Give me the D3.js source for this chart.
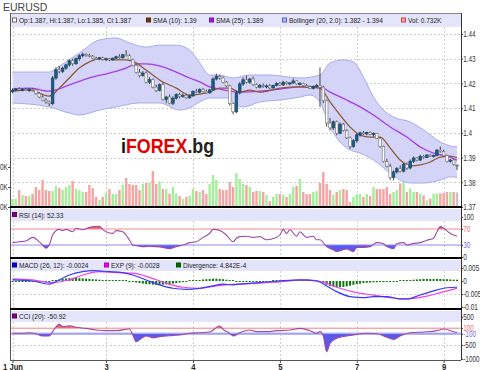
<!DOCTYPE html>
<html><head><meta charset="utf-8">
<script src="https://cdn.jsdelivr.net/npm/d3@7"></script>
<style>html,body{margin:0;padding:0;background:#fff;overflow:hidden}</style>
</head><body><svg id="c" width="480" height="370"></svg>
<script>
// ---------- DATA ----------
const N = 134;
const dayIdx = [0, 28, 54, 80, 103, 129];
const dayLabels = ["1 Jun", "3", "4", "5", "7", "9"];
const priceTicks = [1.37, 1.38, 1.39, 1.40, 1.41, 1.42, 1.43, 1.44];
const priceTickLabels = ["1.37", "1.38", "1.39", "1.4", "1.41", "1.42", "1.43", "1.44"];
const volTicks = [0, 1, 2];
const volTickLabels = ["0.0K", "1.0K", "2.0K"];
const rsiTicks = [0, 30, 70, 100];
const macdTicks = [-0.01, -0.005, 0, 0.005];
const macdTickLabels = ["-0.01", "-0.005", "0", "0.005"];
const cciTicks = [-1000, -500, -100, 100, 500];

const opens = [1.4166,1.4172,1.4178,1.4174,1.4176,1.4171,1.4177,1.4173,1.4160,1.4145,
1.4132,1.4125,1.4118,1.4222,1.4255,1.4248,1.4262,1.4275,1.4292,1.4280,
1.4300,1.4312,1.4318,1.4314,1.4310,1.4302,1.4300,1.4304,1.4297,1.4300,
1.4295,1.4302,1.4308,1.4304,1.4316,1.4312,1.4295,1.4272,1.4245,1.4232,
1.4242,1.4205,1.4215,1.4185,1.4172,1.4195,1.4135,1.4145,1.4120,1.4140,
1.4155,1.4148,1.4152,1.4142,1.4150,1.4168,1.4165,1.4176,1.4168,1.4162,
1.4174,1.4218,1.4228,1.4222,1.4205,1.4190,1.4118,1.4085,1.4162,1.4198,
1.4215,1.4205,1.4218,1.4195,1.4185,1.4192,1.4188,1.4190,1.4182,1.4192,
1.4200,1.4194,1.4205,1.4200,1.4202,1.4210,1.4198,1.4200,1.4192,1.4186,
1.4180,1.4188,1.4192,1.4185,1.4130,1.4040,1.4020,1.4045,1.3998,1.4035,
1.4010,1.3980,1.3945,1.3968,1.3992,1.4000,1.3996,1.4002,1.3994,1.3998,
1.3978,1.3945,1.3885,1.3865,1.3820,1.3842,1.3855,1.3845,1.3872,1.3858,
1.3885,1.3898,1.3890,1.3905,1.3900,1.3910,1.3906,1.3908,1.3930,1.3925,
1.3908,1.3885,1.3890,1.3870];
const highs = [1.4180,1.4182,1.4185,1.4180,1.4182,1.4180,1.4182,1.4176,1.4165,1.4152,
1.4140,1.4130,1.4230,1.4265,1.4270,1.4268,1.4280,1.4298,1.4300,1.4305,
1.4318,1.4325,1.4322,1.4320,1.4315,1.4308,1.4306,1.4308,1.4304,1.4303,
1.4305,1.4312,1.4318,1.4320,1.4335,1.4318,1.4300,1.4278,1.4258,1.4250,
1.4248,1.4225,1.4220,1.4195,1.4200,1.4205,1.4150,1.4155,1.4148,1.4160,
1.4162,1.4160,1.4158,1.4155,1.4172,1.4178,1.4180,1.4182,1.4175,1.4178,
1.4225,1.4240,1.4236,1.4228,1.4210,1.4195,1.4122,1.4170,1.4205,1.4225,
1.4232,1.4222,1.4228,1.4200,1.4198,1.4200,1.4196,1.4198,1.4195,1.4205,
1.4206,1.4210,1.4208,1.4205,1.4220,1.4212,1.4205,1.4203,1.4198,1.4192,
1.4192,1.4198,1.4265,1.4190,1.4135,1.4060,1.4050,1.4050,1.4042,1.4040,
1.4015,1.3985,1.3975,1.3998,1.4005,1.4008,1.4005,1.4006,1.4002,1.4000,
1.3982,1.3948,1.3895,1.3875,1.3848,1.3862,1.3868,1.3878,1.3880,1.3892,
1.3905,1.3902,1.3912,1.3910,1.3915,1.3914,1.3912,1.3935,1.3945,1.3932,
1.3912,1.3895,1.3893,1.3870];
const lows = [1.4160,1.4168,1.4170,1.4168,1.4170,1.4166,1.4170,1.4155,1.4140,1.4128,
1.4118,1.4108,1.4112,1.4215,1.4240,1.4242,1.4255,1.4268,1.4272,1.4275,
1.4292,1.4305,1.4308,1.4306,1.4298,1.4295,1.4294,1.4292,1.4290,1.4290,
1.4292,1.4298,1.4300,1.4300,1.4310,1.4290,1.4268,1.4240,1.4225,1.4228,
1.4200,1.4198,1.4180,1.4165,1.4168,1.4130,1.4120,1.4115,1.4112,1.4135,
1.4140,1.4142,1.4138,1.4138,1.4145,1.4160,1.4160,1.4164,1.4160,1.4158,
1.4170,1.4212,1.4215,1.4200,1.4185,1.4110,1.4075,1.4080,1.4155,1.4190,
1.4200,1.4198,1.4190,1.4180,1.4180,1.4182,1.4180,1.4178,1.4178,1.4188,
1.4190,1.4190,1.4195,1.4192,1.4198,1.4195,1.4192,1.4188,1.4182,1.4178,
1.4176,1.4184,1.4105,1.4120,1.4025,1.4010,1.4012,1.3990,1.3995,1.4005,
1.3975,1.3935,1.3940,1.3960,1.3985,1.3992,1.3990,1.3990,1.3985,1.3975,
1.3940,1.3880,1.3860,1.3810,1.3808,1.3835,1.3840,1.3840,1.3850,1.3852,
1.3878,1.3885,1.3886,1.3895,1.3898,1.3902,1.3900,1.3905,1.3920,1.3905,
1.3880,1.3880,1.3868,1.3850];
const closes = [1.4172,1.4178,1.4174,1.4176,1.4171,1.4177,1.4173,1.4160,1.4145,1.4132,
1.4125,1.4118,1.4222,1.4255,1.4248,1.4262,1.4275,1.4292,1.4280,1.4300,
1.4312,1.4318,1.4314,1.4310,1.4302,1.4300,1.4304,1.4297,1.4300,1.4295,
1.4302,1.4308,1.4304,1.4316,1.4312,1.4295,1.4272,1.4245,1.4232,1.4242,
1.4205,1.4215,1.4185,1.4172,1.4195,1.4135,1.4145,1.4120,1.4140,1.4155,
1.4148,1.4152,1.4142,1.4150,1.4168,1.4165,1.4176,1.4168,1.4162,1.4174,
1.4218,1.4228,1.4222,1.4205,1.4190,1.4118,1.4085,1.4162,1.4198,1.4215,
1.4205,1.4218,1.4195,1.4185,1.4192,1.4188,1.4190,1.4182,1.4192,1.4200,
1.4194,1.4205,1.4200,1.4202,1.4210,1.4198,1.4200,1.4192,1.4186,1.4180,
1.4188,1.4192,1.4185,1.4130,1.4040,1.4020,1.4045,1.3998,1.4035,1.4010,
1.3980,1.3945,1.3968,1.3992,1.4000,1.3996,1.4002,1.3994,1.3998,1.3978,
1.3945,1.3885,1.3865,1.3820,1.3842,1.3855,1.3845,1.3872,1.3858,1.3885,
1.3898,1.3890,1.3905,1.3900,1.3910,1.3906,1.3908,1.3930,1.3925,1.3908,
1.3885,1.3890,1.3872,1.3870];
// volume in thousands
const volumes = [0.4,0.4,0.85,0.6,0.55,0.55,0.65,1.0,0.85,1.35,0.85,0.8,0.8,1.05,0.95,0.85,1.0,1.1,1.3,0.9,0.85,0.75,0.75,1.1,0.95,0.5,0.35,0.5,0.7,0.9,0.65,0.65,0.85,1.1,1.45,1.15,1.1,1.1,0.85,1.15,1.2,1.2,1.8,1.15,
1.28,0.9,0.9,0.67,1.0,0.67,0.55,0.4,0.5,0.55,0.9,0.8,0.75,0.85,0.65,1.15,1.6,1.35,0.9,0.85,0.85,1.25,1.0,1.7,1.4,1.15,1.1,1.0,0.75,0.8,0.8,0.75,0.6,0.3,0.5,0.65,0.65,0.6,0.5,0.65,1.0,1.05,1.4,0.75,0.65,0.65,0.75,0.8,
1.2,1.75,1.15,0.85,0.6,0.75,0.85,0.9,0.85,0.25,0.5,0.65,0.65,0.5,0.65,0.55,1.0,0.9,0.9,0.9,1.0,0.65,0.75,0.85,1.17,1.25,0.75,0.92,0.75,0.75,0.67,0.58,0.33,0.42,0.67,0.67,0.67,0.7,0.75,0.75,0.75,0.73];
// indicator lines: [bar index, value]
const sma10 = [[0,1.4169],[5,1.4173],[11,1.4149],[14,1.4181],[17,1.4222],[20,1.4262],[23,1.4287],[26,1.4299],[31,1.4295],[34,1.4295],[37,1.4283],[40,1.4254],[44,1.4214],[49,1.4181],[53,1.4153],[56,1.4157],[59,1.4165],[62,1.4181],[65,1.4181],[68,1.4165],[71,1.4173],[74,1.4165],[80,1.4181],[86,1.4186],[92,1.4181],[95,1.4125],[98,1.4072],[101,1.4024],[104,1.3991],[107,1.3983],[110,1.3983],[113,1.3939],[116,1.3890],[119,1.3866],[122,1.3870],[125,1.3882],[128,1.3902],[131,1.3906],[133,1.3900]];
const sma25 = [[0,1.4177],[5,1.4181],[11,1.4169],[17,1.4194],[23,1.4222],[29,1.4242],[34,1.4262],[37,1.4279],[40,1.4279],[44,1.4271],[49,1.4246],[53,1.4222],[56,1.4206],[59,1.4186],[62,1.4177],[68,1.4165],[74,1.4169],[80,1.4177],[86,1.4186],[92,1.4186],[95,1.4165],[100,1.4133],[104,1.4105],[108,1.4072],[113,1.4024],[118,1.3983],[122,1.3943],[126,1.3918],[131,1.3902],[133,1.3890]];
const bbUpper = [[0,1.4246],[11,1.4246],[14,1.4270],[20,1.4323],[26,1.4376],[31,1.4384],[35,1.4364],[40,1.4347],[44,1.4355],[49,1.4355],[53,1.4335],[56,1.4283],[59,1.4234],[62,1.4234],[66,1.4222],[71,1.4234],[77,1.4234],[86,1.4222],[92,1.4234],[95,1.4283],[99,1.4295],[102,1.4287],[105,1.4226],[108,1.4145],[111,1.4092],[114,1.4064],[119,1.4044],[123,1.4012],[128,1.3963],[131,1.3947],[133,1.3943]];
const bbLower = [[0,1.4121],[11,1.4105],[17,1.4080],[20,1.4072],[26,1.4092],[31,1.4105],[38,1.4121],[44,1.4121],[50,1.4092],[53,1.4101],[56,1.4125],[59,1.4141],[64,1.4141],[67,1.4113],[69,1.4105],[74,1.4125],[80,1.4133],[86,1.4145],[89,1.4153],[92,1.4125],[95,1.4024],[98,1.3963],[101,1.3931],[104,1.3918],[108,1.3890],[113,1.3837],[116,1.3809],[119,1.3797],[123,1.3797],[128,1.3809],[131,1.3822],[133,1.3820]];
const rsi = [[0,36],[2,38],[4,40],[6,49],[8,38],[9,30],[10,22],[11,30],[12,55],[14,69],[15,66],[16,69],[18,63],[19,72],[21,68],[23,74],[26,77],[27,69],[28,63],[30,59],[31,66],[33,63],[34,55],[35,42],[36,30],[38,27],[39,26],[41,27],[43,26],[45,24],[47,21],[49,26],[51,30],[53,36],[55,38],[57,49],[59,59],[60,69],[62,66],[64,55],[66,38],[67,47],[68,51],[70,52],[72,49],[74,51],[76,43],[78,46],[80,55],[81,69],[82,59],[83,68],[85,52],[86,63],[88,49],[90,52],[91,43],[92,43],[94,26],[96,18],[97,14],[100,20],[102,14],[103,24],[105,24],[107,26],[109,36],[111,33],[112,26],[114,21],[115,33],[117,36],[118,30],[120,34],[122,36],[124,42],[126,47],[127,63],[128,76],[129,72],[131,59],[132,55],[133,52.33]];
const macd = [[0,0.0004],[6,0],[11,-0.0012],[14,0.0004],[17,0.0023],[21,0.0036],[24,0.004],[29,0.0036],[33,0.0032],[36,0.0023],[40,0.0004],[44,-0.0015],[48,-0.0028],[52,-0.0032],[56,-0.0028],[60,-0.0019],[63,-0.0012],[66,-0.0015],[68,-0.0012],[74,-0.0006],[80,0],[86,0.0004],[91,0],[94,-0.0019],[97,-0.0041],[101,-0.006],[105,-0.0064],[108,-0.006],[112,-0.006],[116,-0.0069],[118,-0.0069],[122,-0.0054],[126,-0.0038],[130,-0.0026],[133,-0.0024]];
const macdExp = [[0,0.0008],[6,0.0004],[11,-0.0006],[17,0.0004],[21,0.0023],[26,0.0036],[31,0.0032],[36,0.003],[41,0.0014],[46,-0.0009],[51,-0.0024],[56,-0.0028],[61,-0.0019],[66,-0.0013],[68,-0.0012],[80,-0.0003],[88,0.0004],[94,-0.0009],[98,-0.0028],[103,-0.0045],[108,-0.0054],[113,-0.0064],[117,-0.0069],[120,-0.0067],[124,-0.0058],[128,-0.0045],[131,-0.0035],[133,-0.0028]];
const divergence = [-0.0003,-0.0003,-0.0003,-0.0003,-0.0003,-0.0003,-0.0002,-0.0002,-0.0002,-0.0004,-0.0004,-0.0004,
0.0002,0.0004,
0.0006,0.0008,0.001,0.0011,0.0012,0.0012,0.0011,0.001,0.0009,0.0008,0.0007,0.0006,0.0005,0.0003,
0.0002,0.0001,0.0001,0.0002,0.0002,0.0001,0,-0.0002,
-0.0004,-0.0006,-0.0008,-0.001,-0.0012,-0.0013,-0.0014,-0.0015,-0.0015,-0.0014,-0.0013,-0.0012,-0.001,-0.0008,-0.0006,-0.0004,-0.0002,
0.0001,0.0002,0.0003,
0.0004,0.0006,0.0007,0.0008,0.0009,0.0009,0.0008,0.0007,0.0005,0.0003,0.0001,
-0.0002,-0.0003,-0.0003,-0.0003,-0.0002,-0.0002,-0.0002,-0.0002,-0.0001,-0.0001,-0.0001,0.0001,
0.0002,0.0003,0.0003,0.0003,0.0003,0.0003,0.0003,0.0002,0.0002,0.0002,0.0001,0.0001,
0,-0.0003,-0.0008,-0.0014,-0.0019,-0.0022,-0.0024,-0.0024,-0.0023,-0.0021,-0.0018,-0.0015,-0.0012,-0.001,-0.0008,-0.0007,-0.0006,-0.0005,-0.0005,-0.0004,
-0.0004,-0.0004,-0.0003,-0.0002,-0.0001,0.0001,
0.0002,0.0003,0.0004,0.0005,0.0006,0.0007,0.0008,0.0008,0.0008,0.0008,0.0008,0.0008,0.0007,0.0007,0.0006,0.0005,0.0005];
const cci = [[0,-83],[3,-83],[5,-60],[7,-100],[9,-180],[11,-180],[12,-24],[14,238],[15,155],[17,190],[19,131],[22,95],[25,36],[28,12],[31,12],[35,71],[36,-143],[37,-381],[39,-226],[40,-180],[42,-238],[44,-202],[46,-180],[48,-155],[50,-143],[53,-83],[56,-60],[59,-36],[62,178],[63,59],[65,-83],[66,-180],[68,-60],[71,36],[73,-24],[76,-24],[79,12],[83,36],[86,95],[89,12],[91,-83],[92,-24],[93,-180],[94,-738],[95,-440],[97,-262],[100,-180],[103,-119],[106,-83],[109,-100],[112,-226],[114,-298],[116,-180],[119,-60],[123,-36],[127,12],[129,71],[132,-24],[133,-50.92]];

const chartTitle = "EURUSD";
const watermark = ["i", "FOREX", ".bg"];
const legendMain = ["Op:1.387, Hi:1.387, Lo:1.385, Cl:1.387", "SMA (10): 1.39", "SMA (25): 1.389", "Bollinger (20, 2.0): 1.382 - 1.394", "Vol: 0.732K"];
const legendRsi = ["RSI (14): 52.33"];
const legendMacd = ["MACD (26, 12): -0.0024", "EXP (9): -0.0028", "Divergence: 4.842E-4"];
const legendCci = ["CCI (20): -50.92"];

// ---------- DRAW ----------
const svg = d3.select("#c");
const F = "'Liberation Sans',Arial,sans-serif";
const L = 10, R = 461;
const x = d3.scaleLinear().domain([0, N - 1]).range([12.5, 457]);
const yP = d3.scaleLinear().domain([1.37, 1.44]).range([207, 34]);
const yV = d3.scaleLinear().domain([0, 2]).range([207, 167]);
const yR = d3.scaleLinear().domain([0, 100]).range([257, 217]);
const yM = d3.scaleLinear().domain([-0.01, 0.005]).range([307, 268]);
const yC = d3.scaleLinear().domain([-1000, 500]).range([359, 317]);

const panels = [
  {name: "main", top: 13, band: [14, 27], bottom: 207},
  {name: "rsi", top: 208, band: [209, 221], bottom: 258},
  {name: "macd", top: 259, band: [260, 271], bottom: 309},
  {name: "cci", top: 310, band: [311, 322], bottom: 360}
];

// condensed text helper (the reference uses a narrow face)
function ntext(parent, xp, yp, str, size, sx, anchor) {
  const g = parent.append("g").attr("transform", `translate(${xp},${yp}) scale(${sx},1)`);
  return g.append("text").attr("x", 0).attr("y", 0).attr("font-family", F).attr("font-size", size)
    .attr("text-anchor", anchor || "start").text(str);
}

svg.append("rect").attr("width", 480).attr("height", 370).attr("fill", "#fff");
const defs = svg.append("defs");
panels.forEach(p => {
  defs.append("clipPath").attr("id", "clip-" + p.name)
    .append("rect").attr("x", L).attr("y", p.top).attr("width", R - L).attr("height", p.bottom - p.top);
});

// title
svg.append("text").attr("x", 3).attr("y", 10.5).attr("font-family", F).attr("font-size", 10.5)
  .attr("fill", "#444").text(chartTitle);

// gridlines
const grid = svg.append("g").attr("stroke", "#cfcfcf").attr("stroke-dasharray", "2,2").attr("stroke-width", 1);
panels.forEach(p => {
  dayIdx.forEach(d => {
    const xx = Math.round(x(d)) + 0.5;
    grid.append("line").attr("x1", xx).attr("x2", xx).attr("y1", p.band[1]).attr("y2", p.bottom);
  });
});
const hgrid = (vals, sc) => vals.forEach(v => {
  const yy = Math.round(sc(v)) + 0.5;
  grid.append("line").attr("x1", L).attr("x2", R).attr("y1", yy).attr("y2", yy);
});
hgrid(priceTicks.slice(1), yP);
hgrid([-0.005], yM);
hgrid([-500], yC);

// legend bands
panels.forEach(p => {
  svg.append("rect").attr("x", L).attr("y", p.band[0]).attr("width", R - L).attr("height", p.band[1] - p.band[0])
    .attr("fill", "#e4e4fa");
});

// ----- main panel -----
const gMain = svg.append("g").attr("clip-path", "url(#clip-main)");
const lineP = d3.line().x(d => x(d[0])).y(d => yP(d[1])).curve(d3.curveMonotoneX);
const upPath = lineP(bbUpper);
const loPath = lineP(bbLower.slice().reverse());
gMain.append("path").attr("d", upPath + "L" + loPath.slice(1) + "Z").attr("fill", "#d4d4f8").attr("stroke", "none");
gMain.append("path").attr("d", upPath).attr("fill", "none").attr("stroke", "#a9a9ef").attr("stroke-width", 1);
gMain.append("path").attr("d", lineP(bbLower)).attr("fill", "none").attr("stroke", "#a9a9ef").attr("stroke-width", 1);

// volume
const bw = 2.4;
gMain.selectAll("rect.vol").data(volumes).join("rect").attr("class", "vol")
  .attr("x", (d, i) => x(i) - bw / 2).attr("width", bw)
  .attr("y", d => yV(d)).attr("height", d => yV(0) - yV(d))
  .attr("fill", (d, i) => closes[i] > opens[i] ? "#a4ee9c" : (closes[i] < opens[i] ? "#f6a3a3" : "#c4c4c4"));

// moving averages
gMain.append("path").attr("d", lineP(sma25)).attr("fill", "none").attr("stroke", "#a83ae8").attr("stroke-width", 1.3);
gMain.append("path").attr("d", lineP(sma10)).attr("fill", "none").attr("stroke", "#8c5a3a").attr("stroke-width", 1.3);

// candles
const cw = 2.6;
const cg = gMain.append("g");
d3.range(N).forEach(i => {
  const up = closes[i] > opens[i];
  const xx = x(i);
  cg.append("line").attr("x1", xx).attr("x2", xx).attr("y1", yP(highs[i])).attr("y2", yP(lows[i]))
    .attr("stroke", "#333").attr("stroke-width", 0.9);
  const yt = yP(Math.max(opens[i], closes[i])), yb = yP(Math.min(opens[i], closes[i]));
  cg.append("rect").attr("x", xx - cw / 2).attr("width", cw).attr("y", yt).attr("height", Math.max(1, yb - yt))
    .attr("fill", up ? "#1e5a82" : (closes[i] < opens[i] ? "#ffffff" : "#666"))
    .attr("stroke", up ? "#1a4a6a" : "#7d7d7d").attr("stroke-width", 0.7);
});

// watermark
{
  const g = svg.append("g").attr("transform", "translate(121,153) scale(0.85,1)");
  const wm = g.append("text").attr("x", 0).attr("y", 0).attr("font-family", F)
    .attr("font-size", 21).attr("font-weight", "bold");
  wm.append("tspan").attr("fill", "#111").text(watermark[0]);
  wm.append("tspan").attr("fill", "#e00000").text(watermark[1]);
  wm.append("tspan").attr("fill", "#222").text(watermark[2]);
}

// ----- RSI -----
const gR = svg.append("g").attr("clip-path", "url(#clip-rsi)");
const lineR = d3.line().x(d => x(d[0])).y(d => yR(d[1])).curve(d3.curveMonotoneX);
defs.append("clipPath").attr("id", "rsiHi").append("rect").attr("x", L).attr("y", 200).attr("width", R - L).attr("height", yR(70) - 200);
defs.append("clipPath").attr("id", "rsiLo").append("rect").attr("x", L).attr("y", yR(30)).attr("width", R - L).attr("height", 60);
const areaR70 = d3.area().x(d => x(d[0])).y0(yR(70)).y1(d => yR(d[1])).curve(d3.curveMonotoneX);
const areaR30 = d3.area().x(d => x(d[0])).y0(yR(30)).y1(d => yR(d[1])).curve(d3.curveMonotoneX);
gR.append("g").attr("clip-path", "url(#rsiHi)").append("path").attr("d", areaR70(rsi)).attr("fill", "#f25a5a");
gR.append("g").attr("clip-path", "url(#rsiLo)").append("path").attr("d", areaR30(rsi)).attr("fill", "#5a5af0");
gR.append("line").attr("x1", L).attr("x2", R).attr("y1", yR(70)).attr("y2", yR(70)).attr("stroke", "#f58a8a").attr("stroke-width", 1);
gR.append("line").attr("x1", L).attr("x2", R).attr("y1", yR(30)).attr("y2", yR(30)).attr("stroke", "#8a8af5").attr("stroke-width", 1);
gR.append("path").attr("d", lineR(rsi)).attr("fill", "none").attr("stroke", "#a048a8").attr("stroke-width", 1.1);

// ----- MACD -----
const gM = svg.append("g").attr("clip-path", "url(#clip-macd)");
gM.selectAll("rect.div").data(divergence).join("rect").attr("class", "div")
  .attr("x", (d, i) => x(i) - 1).attr("width", 2)
  .attr("y", d => d >= 0 ? Math.min(yM(d), yM(0) - 1) : yM(0))
  .attr("height", d => Math.max(1, Math.abs(yM(d) - yM(0))))
  .attr("fill", "#0a7a0a");
const lineM = d3.line().x(d => x(d[0])).y(d => yM(d[1])).curve(d3.curveMonotoneX);
gM.append("path").attr("d", lineM(macdExp)).attr("fill", "none").attr("stroke", "#f040f0").attr("stroke-width", 1.2);
gM.append("path").attr("d", lineM(macd)).attr("fill", "none").attr("stroke", "#3a3af5").attr("stroke-width", 1.2);

// ----- CCI -----
const gC = svg.append("g").attr("clip-path", "url(#clip-cci)");
const lineC = d3.line().x(d => x(d[0])).y(d => yC(d[1])).curve(d3.curveMonotoneX);
defs.append("clipPath").attr("id", "cciHi").append("rect").attr("x", L).attr("y", 300).attr("width", R - L).attr("height", yC(100) - 300);
defs.append("clipPath").attr("id", "cciLo").append("rect").attr("x", L).attr("y", yC(-100)).attr("width", R - L).attr("height", 60);
const areaC100 = d3.area().x(d => x(d[0])).y0(yC(100)).y1(d => yC(d[1])).curve(d3.curveMonotoneX);
const areaCm100 = d3.area().x(d => x(d[0])).y0(yC(-100)).y1(d => yC(d[1])).curve(d3.curveMonotoneX);
gC.append("line").attr("x1", L).attr("x2", R).attr("y1", yC(-100)).attr("y2", yC(-100)).attr("stroke", "#b4b4f6").attr("stroke-width", 2.5);
gC.append("g").attr("clip-path", "url(#cciHi)").append("path").attr("d", areaC100(cci)).attr("fill", "#f46464");
gC.append("g").attr("clip-path", "url(#cciLo)").append("path").attr("d", areaCm100(cci)).attr("fill", "#5a5aea");
gC.append("line").attr("x1", L).attr("x2", R).attr("y1", yC(100)).attr("y2", yC(100)).attr("stroke", "#f58a8a").attr("stroke-width", 1);
gC.append("path").attr("d", lineC(cci)).attr("fill", "none").attr("stroke", "#a048a8").attr("stroke-width", 1.1);

// ----- legends -----
function legendItem(xp, yc, fill, stroke, label) {
  svg.append("rect").attr("x", xp + 0.5).attr("y", yc - 2.5).attr("width", 4).attr("height", 4)
    .attr("fill", fill).attr("stroke", stroke).attr("stroke-width", 1);
  ntext(svg, xp + 7, yc + 2.8, label, 8, 0.82).attr("fill", "#222");
}
legendItem(12, 20.5, "#fff", "#666", legendMain[0]);
legendItem(146, 20.5, "#6a3a14", "#5a2a0a", legendMain[1]);
legendItem(209, 20.5, "#9a1ce0", "#7a10c0", legendMain[2]);
legendItem(282, 20.5, "#b8bcf4", "#5060d0", legendMain[3]);
legendItem(401, 20.5, "#f8a4a4", "#c84848", legendMain[4]);
legendItem(12, 215, "#800080", "#600060", legendRsi[0]);
legendItem(12, 265.5, "#0000f0", "#0000a0", legendMacd[0]);
legendItem(104, 265.5, "#f000f0", "#b000b0", legendMacd[1]);
legendItem(176, 265.5, "#007000", "#005000", legendMacd[2]);
legendItem(12, 316.5, "#800080", "#600060", legendCci[0]);

// ----- axes -----
function rightAxis(sc, ticks, labels, colors) {
  const g = svg.append("g").attr("transform", `translate(${R},0)`)
    .call(d3.axisRight(sc).tickValues(ticks).tickSize(2).tickPadding(1).tickFormat((d, i) => labels[i]));
  g.select(".domain").remove();
  g.selectAll(".tick line").attr("stroke", "#444");
  g.selectAll(".tick text").attr("font-family", F).attr("font-size", 8.5)
    .attr("transform", "scale(0.75,1)")
    .attr("fill", (d, i) => colors ? colors[i] : "#333");
}
rightAxis(yP, priceTicks, priceTickLabels);
rightAxis(yR, rsiTicks, rsiTicks.map(String), ["#333", "#7070f0", "#f07070", "#333"]);
rightAxis(yM, macdTicks, macdTickLabels);
rightAxis(yC, cciTicks, cciTicks.map(String), ["#333", "#333", "#7070f0", "#f07070", "#333"]);

// volume axis (left, labels partly beyond the page edge as in the reference)
const gv = svg.append("g").attr("transform", `translate(${L},0)`)
  .call(d3.axisLeft(yV).tickValues(volTicks).tickSize(2).tickPadding(1).tickFormat((d, i) => volTickLabels[i]));
gv.select(".domain").remove();
gv.selectAll(".tick line").attr("stroke", "#444");
gv.selectAll(".tick text").attr("font-family", F).attr("font-size", 8.5).attr("fill", "#333")
  .attr("transform", "scale(0.75,1)");

// x axis
const gx = svg.append("g").attr("transform", "translate(0,360)")
  .call(d3.axisBottom(x).tickValues(dayIdx).tickSize(3).tickPadding(1).tickFormat((d, i) => dayLabels[i]));
gx.select(".domain").remove();
gx.selectAll(".tick line").attr("stroke", "#444");
gx.selectAll(".tick text").attr("font-family", F).attr("font-size", 9).attr("font-weight", "bold").attr("fill", "#222")
  .attr("transform", "scale(0.85,1)");

// frame lines
svg.append("line").attr("x1", L).attr("x2", R).attr("y1", 13.5).attr("y2", 13.5).attr("stroke", "#8a8a8a");
svg.append("line").attr("x1", L + 0.5).attr("x2", L + 0.5).attr("y1", 13).attr("y2", 360).attr("stroke", "#555");
svg.append("line").attr("x1", R + 0.5).attr("x2", R + 0.5).attr("y1", 13).attr("y2", 360).attr("stroke", "#333");
svg.append("line").attr("x1", L).attr("x2", R).attr("y1", 360.5).attr("y2", 360.5).attr("stroke", "#555");
[207, 258, 309].forEach(yy => {
  svg.append("rect").attr("x", L).attr("y", yy - 1).attr("width", R - L + 1).attr("height", 2).attr("fill", "#000");
});
</script></body></html>
